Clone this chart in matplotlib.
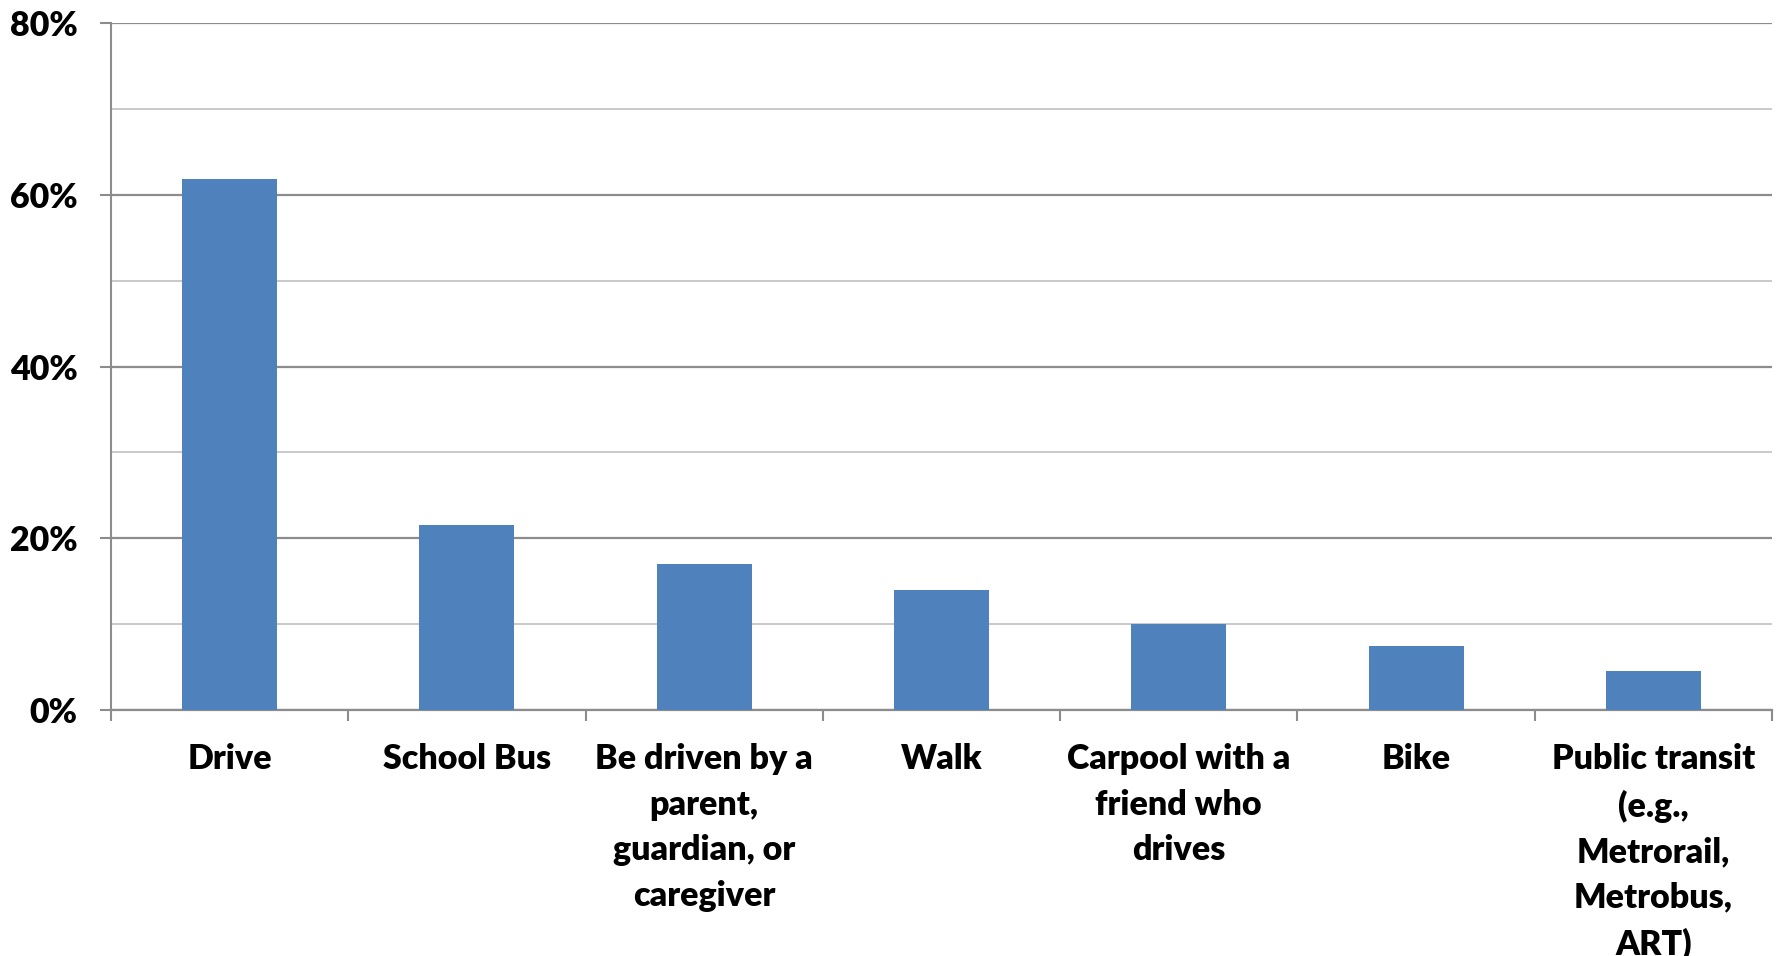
import matplotlib.pyplot as plt
from matplotlib.ticker import MultipleLocator, FuncFormatter
import numpy as np

plt.rcParams['font.family'] = ['Lato', 'DejaVu Sans']

categories = ['Drive', 'School Bus', 'Be driven by a\nparent,\nguardian, or\ncaregiver', 'Walk',
              'Carpool with a\nfriend who\ndrives', 'Bike',
              'Public transit\n(e.g.,\nMetrorail,\nMetrobus,\nART)']
values = [61.8, 21.6, 17.0, 14.0, 10.0, 7.4, 4.5]

fig = plt.figure(figsize=(17.77, 9.56), dpi=100)
ax = fig.add_axes([111 / 1777, 1 - 710 / 956, (1772 - 111) / 1777, (710 - 23) / 956])

x = np.arange(len(categories))
ax.bar(x, values, width=0.40, color='#4f81bd', zorder=3)

ax.set_xlim(-0.5, len(categories) - 0.5)
ax.set_ylim(0, 80)
ax.yaxis.set_major_locator(MultipleLocator(20))
ax.yaxis.set_minor_locator(MultipleLocator(10))
ax.yaxis.set_major_formatter(FuncFormatter(lambda v, p: '%d%%' % v))
ax.grid(axis='y', which='major', color='#8c8c8c', linewidth=1.6, zorder=1)
ax.grid(axis='y', which='minor', color='#c0c0c0', linewidth=1.2, zorder=1)

ax.set_xticks(x)
ax.set_xticklabels(categories, fontsize=24.5, fontweight='heavy', linespacing=1.52, va='top')
ax.set_xticks(np.arange(len(categories) + 1) - 0.5, minor=True)
ax.tick_params(axis='x', which='major', length=0, pad=24)
ax.tick_params(axis='x', which='minor', length=8, width=1.5, color='#8c8c8c')
ax.tick_params(axis='y', which='major', length=8, width=1.5, color='#8c8c8c',
               labelsize=24.5, pad=16)
for lab in ax.get_yticklabels():
    lab.set_fontweight('heavy')
ax.tick_params(axis='y', which='minor', length=0)

for s in ['top', 'right']:
    ax.spines[s].set_visible(False)
ax.spines['left'].set_color('#8c8c8c')
ax.spines['left'].set_linewidth(1.5)
ax.spines['bottom'].set_color('#8c8c8c')
ax.spines['bottom'].set_linewidth(1.6)

fig.savefig('out.png', dpi=100, facecolor='white')
plt.close()
